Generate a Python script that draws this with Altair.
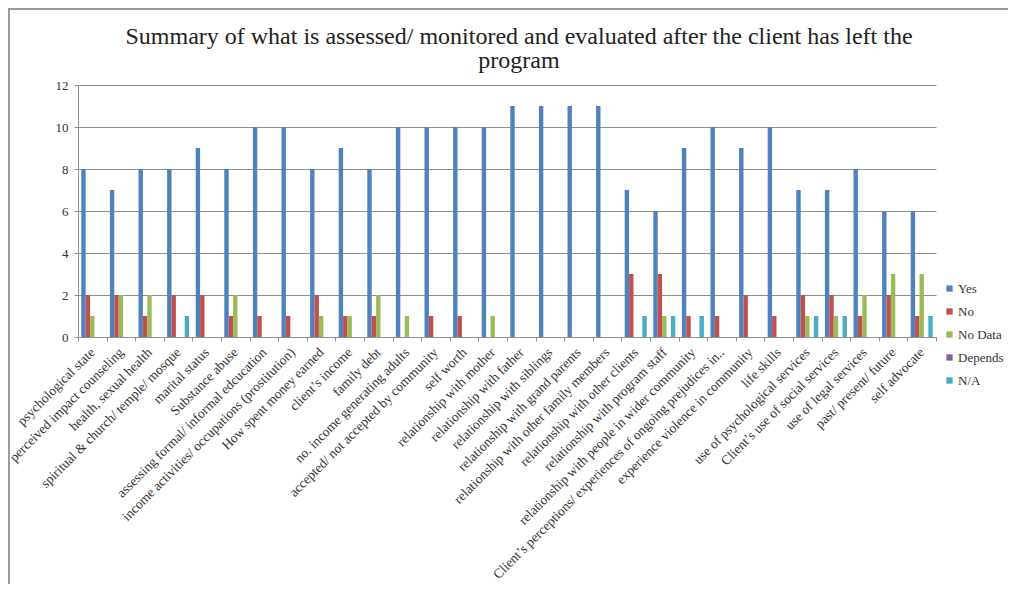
import altair as alt
import pandas as pd

categories = [
    "psychological state",
    "perceived impact counseling",
    "health,  sexual health",
    "spiritual  & church/ temple/ mosque",
    "marital status",
    "Substance abuse",
    "assessing formal/ informal edcucation",
    "income  activities/ occupations (prostitution)",
    "How  spent money earned",
    "client’s income",
    "family  debt",
    "no. income generating adults",
    "accepted/ not accepted by community",
    "self worth",
    "relationship  with mother",
    "relationship with father",
    "relationship  with siblings",
    "relationship  with grand parents",
    "relationship with other family members",
    "relationship with other clients",
    "relationship  with program staff",
    "relationship with people in wider community",
    "Client’s perceptions/ experiences of ongoing prejudices in..",
    "experience  violence in community",
    "life skills",
    "use of psychological services",
    "Client’s use of social services",
    "use of legal services",
    "past/ present/ future",
    "self advocate",
]

series_names = ["Yes", "No", "No Data", "Depends", "N/A"]
yes_vals = [8, 7, 8, 8, 9, 8, 10, 10, 8, 9, 8, 10, 10, 10, 10, 11, 11, 11, 11, 7, 6, 9, 10, 9, 10, 7, 7, 8, 6, 6]
no_vals = [2, 2, 1, 2, 2, 1, 1, 1, 2, 1, 1, 0, 1, 1, 0, 0, 0, 0, 0, 3, 3, 1, 1, 2, 1, 2, 2, 1, 2, 1]
nodata_vals = [1, 2, 2, 0, 0, 2, 0, 0, 1, 1, 2, 1, 0, 0, 1, 0, 0, 0, 0, 0, 1, 0, 0, 0, 0, 1, 1, 2, 3, 3]
depends_vals = [0] * 30
na_vals = [0, 0, 0, 1, 0, 0, 0, 0, 0, 0, 0, 0, 0, 0, 0, 0, 0, 0, 0, 1, 1, 1, 0, 0, 0, 1, 1, 0, 0, 1]
colors = ["#4F81BD", "#C0504D", "#9BBB59", "#8064A2", "#4BACC6"]
y_ticks = [0, 2, 4, 6, 8, 10, 12]
title_lines = [
    "Summary of what is assessed/ monitored and evaluated after the client has left the",
    "program",
]

rows = []
for name, vals in zip(series_names, [yes_vals, no_vals, nodata_vals, depends_vals, na_vals]):
    for c, v in zip(categories, vals):
        rows.append({"category": c, "series": name, "value": v})
df = pd.DataFrame(rows)

FONT = "Liberation Serif"
GRID = "#8f8f8f"

bars = alt.Chart(df).mark_bar().encode(
    x=alt.X(
        "category:N",
        sort=categories,
        scale=alt.Scale(paddingInner=0, paddingOuter=0),
        axis=alt.Axis(
            title=None, labelAngle=-45, labelAlign="right", labelBaseline="middle",
            labelFontSize=13.5, labelFont=FONT, labelColor="#333333", labelPadding=9,
            tickBand="extent", tickSize=4, tickColor=GRID, domainColor=GRID,
            labelLimit=0, labelOverlap=False, grid=False,
        ),
    ),
    xOffset=alt.XOffset(
        "series:N", sort=series_names,
        scale=alt.Scale(domain=series_names, paddingOuter=0.75, paddingInner=0),
    ),
    y=alt.Y(
        "value:Q",
        scale=alt.Scale(domain=[0, 12], nice=False),
        axis=alt.Axis(
            title=None, values=y_ticks, labelFont=FONT, labelFontSize=13,
            labelColor="#333333", labelPadding=6, tickSize=4, tickColor=GRID,
            domainColor=GRID, gridColor=GRID, gridWidth=1, grid=True,
        ),
    ),
    color=alt.Color(
        "series:N",
        scale=alt.Scale(domain=series_names, range=colors),
        legend=alt.Legend(
            title=None, orient="none", legendX=865, legendY=197,
            symbolType="square", symbolSize=40, symbolStrokeWidth=0,
            labelFont=FONT, labelFontSize=13, labelColor="#333333",
            rowPadding=9, padding=0, labelOffset=2,
        ),
    ),
)

frame = alt.Chart(pd.DataFrame({"f": [0]})).mark_rect(
    fill=None, stroke="#9a9a9a", strokeWidth=2
).encode(
    x=alt.value(-69), x2=alt.value(1100), y=alt.value(-76), y2=alt.value(700)
)

chart = alt.layer(frame, bars).properties(
    width=858,
    height=252,
    autosize=alt.AutoSizeParams(type="none"),
    padding={"left": 70, "top": 77, "right": 72, "bottom": 247},
    title=alt.TitleParams(
        text=title_lines, font=FONT, fontSize=24, fontWeight="normal",
        color="#222222", anchor="middle", frame="group", dx=12,
        lineHeight=24, offset=0, dy=84, baseline="alphabetic",
    ),
).configure_view(stroke=None)

chart.save("out.html", embed_options={"renderer": "svg", "actions": False})
